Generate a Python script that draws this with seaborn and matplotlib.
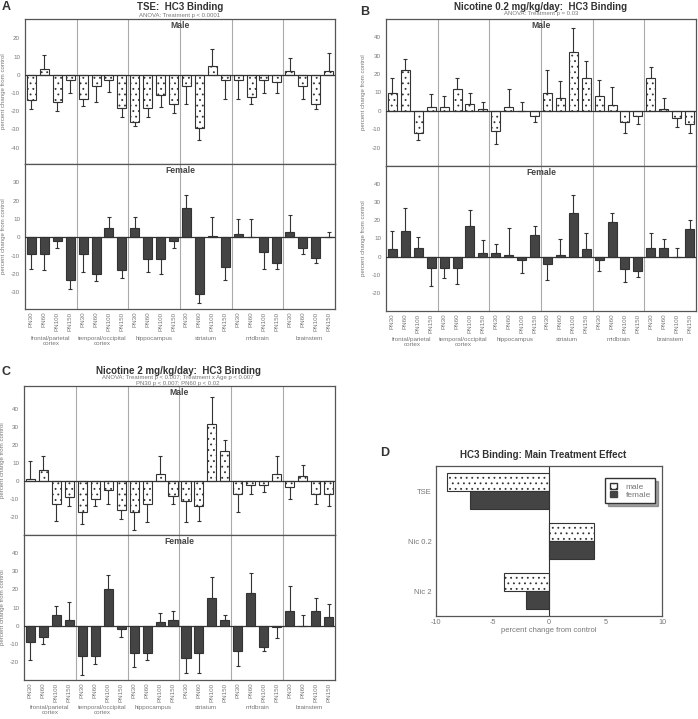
import numpy as np
import pandas as pd
import seaborn as sns
import matplotlib.pyplot as plt
from matplotlib import transforms
from matplotlib.patches import Patch

sns.set_style("white")
plt.rcParams['font.family'] = ['Liberation Sans', 'DejaVu Sans']
plt.rcParams['axes.unicode_minus'] = False
plt.rcParams['hatch.linewidth'] = 0.6
plt.rcParams['hatch.color'] = '#333333'

# --- data -------------------------------------------------------------
regions = ["frontal/parietal\ncortex", "temporal/occipital\ncortex", "hippocampus",
           "striatum", "midbrain", "brainstem"]
ages = ["PN30", "PN60", "PN100", "PN150"]

# TSE
tse_male = [-14, 3, -15, -3, -13, -6, -3, -18, -26, -18, -11, -16,
            -6, -29, 5, -3, -3, -12, -3, -4, 2, -6, -16, 2]
tse_male_err = [5, 8, 5, 7, 4, 9, 6.5, 5, 2, 5, 6.5, 5,
                10, 7, 9, 10, 10, 4, 7, 6, 7, 7, 3, 10]
tse_female = [-9, -9, -2, -23, -9, -20, 5, -18, 5, -12, -12, -2,
              16, -31, 1, -16, 2, 0, -8, -14, 3, -6, -11, 0]
tse_female_err = [8, 9, 4, 5, 10, 4, 6, 4, 6, 7, 8, 4,
                  7, 5, 10, 7, 8, 10, 9, 3, 9, 3, 3, 3]

# Nicotine 0.2
nic02_male = [10, 22, -12, 2, 2, 12, 4, 1, -11, 2, 0, -3,
              10, 7, 32, 18, 8, 3, -6, -3, 18, 1, -4, -7]
nic02_male_err = [8, 6, 4, 7, 6, 6, 6, 4, 7, 10, 5, 3,
                  12, 9, 13, 9, 9, 10, 6, 4, 6, 6, 5, 5]
nic02_female = [4, 14, 5, -6, -6, -6, 17, 2, 2, 1, -2, 12,
                -4, 1, 24, 4, -2, 19, -7, -8, 5, 5, 0, 15]
nic02_female_err = [10, 13, 6, 10, 6, 9, 9, 7, 5, 15, 7, 5,
                    9, 9, 10, 9, 6, 5, 7, 3, 8, 5, 5, 5]

# Nicotine 2
nic2_male = [1, 6, -13, -9, -17, -10, -5, -16, -17, -13, 4, -8,
             -11, -14, 32, 17, -7, -2, -2, 4, -3, 3, -7, -7]
nic2_male_err = [10, 8, 9, 5, 7, 4, 8, 5, 10, 10, 10, 5,
                 12, 8, 15, 6, 10, 5, 4, 10, 7, 6, 6, 7]
nic2_female = [-9, -6, 6, 3, -17, -17, 20, -2, -15, -15, 2, 3,
               -18, -15, 15, 3, -14, 18, -12, -1, 8, 0, 8, 5]
nic2_female_err = [10, 4, 5, 10, 10, 4, 8, 4, 8, 4, 5, 5,
                   8, 11, 12, 3, 8, 11, 2, 6, 14, 6, 7, 7]

# main treatment effect
d_treatments = ["TSE", "Nic 0.2", "Nic 2"]
d_male = [-9, 4, -4]
d_female = [-7, 4, -2]

# --- figure -----------------------------------------------------------
W, H = 698, 719
fig = plt.figure(figsize=(W / 100, H / 100), dpi=100)

DARK = '#444444'
EDGE = '#333333'
GREY = '#777777'
SEP = '#aaaaaa'

slots = [f"{r}|{a}" for r in regions for a in ages]


def fx(x):
    return x / W


def fy(y):
    return 1 - y / H


def px_axes(x0, y0, x1, y1):
    return fig.add_axes([fx(x0), fy(y1), fx(x1) - fx(x0), fy(y0) - fy(y1)])


def bar_axes(ax, vals, errs, ylim, yticks, male, label_x):
    df = pd.DataFrame({"slot": slots, "value": vals})
    sns.barplot(data=df, x="slot", y="value", order=slots,
                color='white' if male else DARK, saturation=1,
                width=0.7, edgecolor=EDGE, linewidth=0.8,
                errorbar=None, ax=ax)
    if male:
        for p in ax.patches:
            p.set_hatch('...')
    lower = [0 if v >= 0 else e for v, e in zip(vals, errs)]
    upper = [e if v >= 0 else 0 for v, e in zip(vals, errs)]
    ax.errorbar(np.arange(len(vals)), vals, yerr=[lower, upper], fmt='none',
                ecolor=EDGE, elinewidth=0.8, capsize=1.6, capthick=0.8)
    ax.axhline(0, color=EDGE, lw=0.9, zorder=3)
    for b in [3.5, 7.5, 11.5, 15.5, 19.5]:
        ax.axvline(b, color=SEP, lw=0.8, zorder=0)
    ax.set_xlim(-0.5, 23.5)
    ax.set_ylim(*ylim)
    ax.set_yticks(yticks)
    ax.set_xticks(range(24))
    ax.set_xticklabels(ages * 6, rotation=90)
    ax.set_xlabel("")
    ax.set_ylabel("percent change from control", fontsize=4.4, color=GREY)
    ax.yaxis.set_label_coords(label_x, 0.5)
    ax.tick_params(axis='y', direction='out', length=2, width=0.6,
                   labelsize=4.5, labelcolor=GREY, color='#555555', pad=1.5)
    ax.tick_params(axis='x', direction='in', length=2, width=0.6,
                   labelsize=4.5, labelcolor=GREY, color='#555555', pad=2)
    if male:
        ax.tick_params(axis='x', labelbottom=False)
    for s in ax.spines.values():
        s.set_color('#555555')
        s.set_linewidth(0.9)
    ax.text(0.5, 0.985, "Male" if male else "Female", transform=ax.transAxes,
            ha='center', va='top', fontsize=6.2, fontweight='bold', color=DARK)


def panel(box, split, male, male_err, female, female_err,
          ylim_m, ylim_f, yt_m, yt_f, region_y, label_px):
    x0, y0, x1, y1 = box
    axm = px_axes(x0, y0, x1, split)
    axf = px_axes(x0, split, x1, y1)
    label_x = (label_px - x0) / (x1 - x0)
    bar_axes(axm, male, male_err, ylim_m, yt_m, True, label_x)
    bar_axes(axf, female, female_err, ylim_f, yt_f, False, label_x)
    trans = transforms.blended_transform_factory(axf.transData, fig.transFigure)
    for i, r in enumerate(regions):
        axf.text(4 * i + 1.5, fy(region_y), r, transform=trans, ha='center',
                 va='top', fontsize=4.5, color=GREY, linespacing=1.05)
    return axm, axf


# Panel A
panel((25, 19, 335, 309), 164, tse_male, tse_male_err, tse_female, tse_female_err,
      (-49, 30.7), (-39, 40), range(-40, 30, 10), range(-30, 40, 10), 336, 5.5)
fig.text(fx(180), fy(7.5), "TSE:  HC3 Binding", ha='center', va='center',
         fontsize=7, fontweight='bold', color='#333333')
fig.text(fx(180), fy(15), "ANOVA: Treatment p < 0.0001", ha='center', va='center',
         fontsize=4.3, color=GREY)
fig.text(fx(2), fy(6.5), "A", ha='left', va='center', fontsize=9, fontweight='bold',
         color='#333333')

# Panel B
panel((386, 19, 696, 311), 166, nic02_male, nic02_male_err, nic02_female,
      nic02_female_err, (-30, 50), (-30, 50), range(-20, 50, 10),
      range(-20, 50, 10), 337, 366)
fig.text(fx(541), fy(6.5), "Nicotine 0.2 mg/kg/day:  HC3 Binding", ha='center',
         va='center', fontsize=7, fontweight='bold', color='#333333')
fig.text(fx(541), fy(14), "ANOVA: Treatment p = 0.03", ha='center', va='center',
         fontsize=4.3, color=GREY)
fig.text(fx(360), fy(12), "B", ha='left', va='center', fontsize=9, fontweight='bold',
         color='#333333')

# Panel C
panel((24, 386, 335, 680), 535, nic2_male, nic2_male_err, nic2_female,
      nic2_female_err, (-30, 53), (-30, 50), range(-20, 50, 10),
      range(-20, 50, 10), 705, 5.5)
fig.text(fx(178), fy(371.5), "Nicotine 2 mg/kg/day:  HC3 Binding", ha='center',
         va='center', fontsize=7, fontweight='bold', color='#333333')
fig.text(fx(178), fy(378), "ANOVA: Treatment p < 0.007; Treatment x Age p < 0.007",
         ha='center', va='center', fontsize=4.3, color=GREY)
fig.text(fx(178), fy(383.5), "PN30 p < 0.007; PN60 p < 0.02", ha='center',
         va='center', fontsize=4.3, color=GREY)
fig.text(fx(2), fy(372), "C", ha='left', va='center', fontsize=9, fontweight='bold',
         color='#333333')

# Panel D
axd = px_axes(436, 466, 662, 616)
dd = pd.DataFrame({
    "treatment": d_treatments * 2,
    "sex": ["male"] * 3 + ["female"] * 3,
    "value": d_male + d_female,
})
sns.barplot(data=dd, y="treatment", x="value", hue="sex", orient='h',
            order=d_treatments, hue_order=["male", "female"],
            palette={"male": "white", "female": DARK}, saturation=1,
            width=0.72, gap=0, edgecolor=EDGE, linewidth=0.8,
            errorbar=None, legend=False, ax=axd)
for bar in axd.containers[0]:
    bar.set_hatch('...')
axd.axvline(0, color=EDGE, lw=0.8)
axd.set_xlim(-10, 10)
axd.set_xticks([-10, -5, 0, 5, 10])
axd.set_yticks([0.5, 1.5], minor=True)
axd.set_ylabel("")
axd.set_xlabel("percent change from control", fontsize=5.5, color=GREY, labelpad=1)
axd.tick_params(axis='both', which='major', length=0, labelsize=5.5,
                labelcolor=GREY, pad=3)
axd.tick_params(axis='x', pad=2, labelsize=5.2)
axd.tick_params(axis='y', which='minor', direction='in', length=3, width=0.6,
                color='#555555')
for s in axd.spines.values():
    s.set_color('#555555')
    s.set_linewidth(0.9)
handles = [Patch(facecolor='white', edgecolor=EDGE, hatch='...', label='male'),
           Patch(facecolor=DARK, edgecolor=DARK, label='female')]
axd.legend(handles=handles, loc='upper right', bbox_to_anchor=(0.97, 0.92),
           fontsize=6, frameon=True, fancybox=False, shadow=True,
           edgecolor=EDGE, handlelength=0.9, handleheight=0.8,
           labelspacing=0.0, borderpad=0.55, handletextpad=1.0,
           labelcolor=GREY, borderaxespad=0)
fig.text(fx(543), fy(455), "HC3 Binding: Main Treatment Effect", ha='center',
         va='center', fontsize=7, fontweight='bold', color='#333333')
fig.text(fx(380), fy(453), "D", ha='left', va='center', fontsize=9,
         fontweight='bold', color='#333333')

fig.savefig("out.png", dpi=100, facecolor='white')
